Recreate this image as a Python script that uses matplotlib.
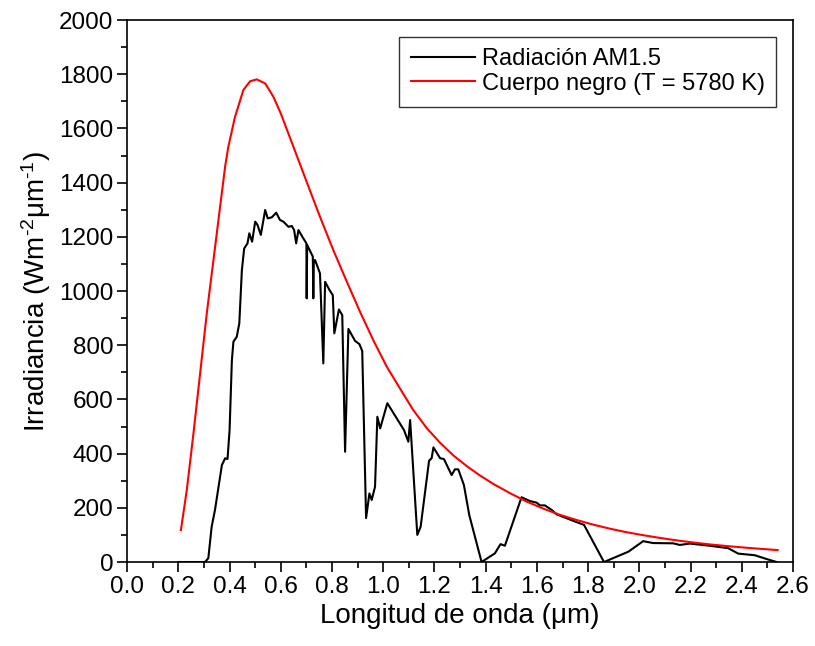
import matplotlib
matplotlib.use("Agg")
import matplotlib.pyplot as plt
from matplotlib.ticker import MultipleLocator

plt.rcParams["font.family"] = ["Liberation Sans", "DejaVu Sans"]
plt.rcParams["mathtext.fontset"] = "custom"
plt.rcParams["mathtext.rm"] = "Liberation Sans"
plt.rcParams["mathtext.default"] = "regular"

# AM1.5 spectrum
am15_x = [0.20, 0.30, 0.304, 0.317, 0.33, 0.343, 0.37, 0.383, 0.392, 0.40, 0.409, 0.415,
          0.428, 0.438, 0.448, 0.457, 0.47, 0.477, 0.488, 0.50, 0.509, 0.522, 0.539,
          0.549, 0.565, 0.582, 0.597, 0.61, 0.63, 0.643, 0.652, 0.66, 0.669, 0.688,
          0.700, 0.701, 0.703, 0.725, 0.727, 0.729, 0.734, 0.753, 0.766, 0.773, 0.790,
          0.803, 0.809, 0.827, 0.84, 0.851, 0.864, 0.89, 0.907, 0.918, 0.933, 0.946,
          0.955, 0.968, 0.977, 0.988, 1.016, 1.081, 1.098, 1.105, 1.133, 1.146, 1.179,
          1.189, 1.196, 1.222, 1.237, 1.267, 1.28, 1.293, 1.315, 1.336, 1.384, 1.436,
          1.458, 1.475, 1.54, 1.573, 1.599, 1.612, 1.631, 1.658, 1.677, 1.742, 1.784,
          1.862, 1.957, 2.015, 2.054, 2.132, 2.158, 2.197, 2.276, 2.347, 2.386, 2.451,
          2.497, 2.536]
am15_y = [0, 0, 0, 14, 130, 192, 358, 383, 380, 487, 745, 813,
          831, 881, 1077, 1157, 1176, 1213, 1182, 1256, 1244, 1207, 1299,
          1268, 1272, 1289, 1262, 1256, 1237, 1240, 1225, 1176, 1225, 1194,
          1176, 973, 1170, 1127, 973, 1114, 1114, 1065, 733, 1034, 1004,
          985, 844, 932, 911, 407, 860, 816, 804, 779, 162, 253,
          229, 278, 536, 493, 586, 487, 444, 524, 100, 130, 374,
          383, 423, 383, 380, 321, 342, 342, 284, 173, 0, 32,
          66, 60, 239, 225, 219, 209, 209, 192, 176, 152, 137,
          0, 38, 77, 70, 69, 63, 68, 60, 51, 31, 25,
          11, 0]

# black body curve, T = 5780 K
bb_x = [0.21, 0.233, 0.259, 0.285, 0.311, 0.337, 0.363, 0.383, 0.395, 0.421, 0.454,
        0.48, 0.506, 0.539, 0.571, 0.600, 0.649, 0.701, 0.753, 0.805, 0.858, 0.909,
        0.961, 1.013, 1.065, 1.117, 1.17, 1.222, 1.274, 1.326, 1.375, 1.43, 1.495,
        1.56, 1.625, 1.69, 1.755, 1.82, 1.885, 1.95, 2.015, 2.08, 2.145, 2.21, 2.275,
        2.34, 2.44, 2.54]
bb_y = [118, 266, 475, 696, 918, 1114, 1311, 1462, 1532, 1642, 1742,
        1774, 1781, 1766, 1717, 1655, 1533, 1403, 1274, 1151, 1034, 924,
        819, 722, 641, 561, 494, 440, 393, 354, 321, 288, 254,
        223, 197, 174, 155, 138, 123, 110, 99, 89, 80, 72, 65,
        59, 51, 44]

fig = plt.figure(figsize=(8.15, 6.46), dpi=100)
ax = fig.add_axes([0.156, 0.130, 0.817, 0.839])

ax.plot(am15_x, am15_y, color="black", lw=1.5, label="Radiación AM1.5")
ax.plot(bb_x, bb_y, color="red", lw=1.5, label="Cuerpo negro (T = 5780 K)")

ax.set_xlim(0, 2.6)
ax.set_ylim(0, 2000)
ax.xaxis.set_major_locator(MultipleLocator(0.2))
ax.xaxis.set_minor_locator(MultipleLocator(0.1))
ax.yaxis.set_major_locator(MultipleLocator(200))
ax.yaxis.set_minor_locator(MultipleLocator(100))
ax.xaxis.set_major_formatter(plt.FormatStrFormatter("%.1f"))
ax.tick_params(which="major", direction="out", length=7, width=1.2, labelsize=17.5, pad=3)
ax.tick_params(which="minor", direction="out", length=4, width=1.2)
for s in ax.spines.values():
    s.set_linewidth(1.2)

ax.set_xlabel("Longitud de onda (μm)", fontsize=20, labelpad=4)
ax.set_ylabel(r"Irradiancia (Wm$^{\text{-2}}$μm$^{\text{-1}}$)", fontsize=20, labelpad=4)

leg = ax.legend(loc="upper right", fontsize=17, frameon=True, fancybox=False,
                edgecolor="black", handlelength=2.7, borderaxespad=0.7,
                handletextpad=0.3, labelspacing=0.1, borderpad=0.5)
leg.get_frame().set_linewidth(1.0)

fig.savefig("out.png", dpi=100)
